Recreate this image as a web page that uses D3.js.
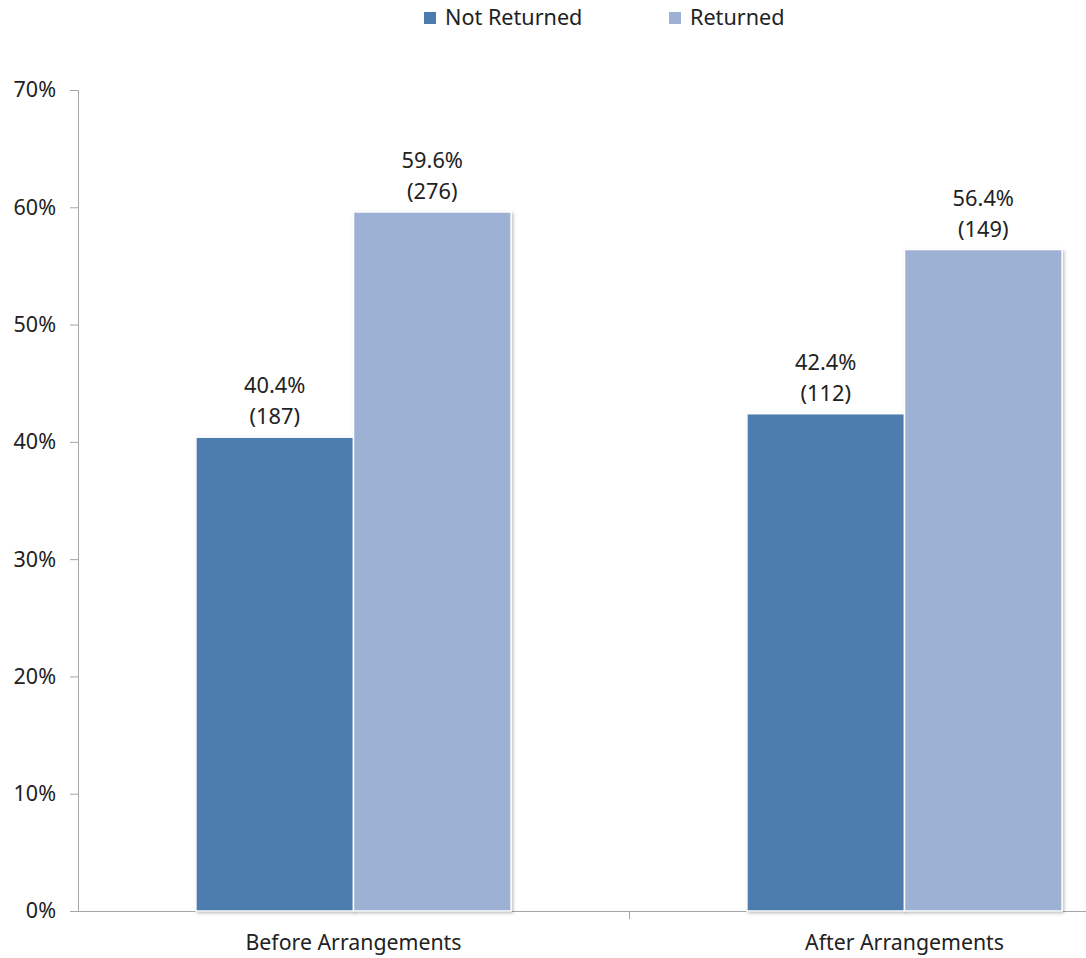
<!DOCTYPE html>
<html><head><meta charset="utf-8">
<script src="https://cdn.jsdelivr.net/npm/d3@7"></script>
<style>body{margin:0;background:#fff}svg{display:block}text{font-family:"Noto Sans",sans-serif;fill:#222}</style>
</head><body>
<svg id="c" width="1086" height="958"></svg>
<script>
const categories = ["Before Arrangements", "After Arrangements"];
const seriesNames = ["Not Returned", "Returned"];
const notReturnedPct = [40.4, 42.4];
const returnedPct = [59.6, 56.4];
const notReturnedN = [187, 112];
const returnedN = [276, 149];
const yTicks = [0, 10, 20, 30, 40, 50, 60, 70];
const colors = ["#4E7BAE", "#9DB1D5"];

const svg = d3.select("#c");
const defs = svg.append("defs");
const f = defs.append("filter").attr("id","sh").attr("x","-10%").attr("y","-10%").attr("width","130%").attr("height","130%");
f.append("feDropShadow").attr("dx",1.5).attr("dy",1.5).attr("stdDeviation",1.5).attr("flood-color","#000").attr("flood-opacity",0.25);

const x = d3.scaleBand().domain(categories).range([78, 1180]).paddingInner(0.428).paddingOuter(0.214);
const xs = d3.scaleBand().domain(seriesNames).range([0, x.bandwidth()]);
const y = d3.scaleLinear().domain([0, 70]).range([911, 90]);

// y axis
const ya = svg.append("g").attr("transform","translate(78,0)")
  .call(d3.axisLeft(y).tickValues(yTicks).tickFormat(d => d + "%").tickSize(8).tickPadding(14));
ya.select(".domain").attr("stroke","#a6a6a6").attr("d","M-8,90.5H0.5V911.5");
ya.selectAll(".tick line").attr("stroke","#a6a6a6");
ya.selectAll(".tick text").style("font-size","21.5px").attr("fill","#222");

// x axis line
svg.append("line").attr("x1",70).attr("x2",1086).attr("y1",911.5).attr("y2",911.5).attr("stroke","#a6a6a6");
// category boundary tick
const mid = (x(categories[0]) + x.bandwidth() + x(categories[1])) / 2;
svg.append("line").attr("x1",Math.round(mid)+0.5).attr("x2",Math.round(mid)+0.5).attr("y1",911).attr("y2",919).attr("stroke","#a6a6a6");

const data = [];
categories.forEach((c,i)=>{
  data.push({c, s: seriesNames[0], v: notReturnedPct[i], n: notReturnedN[i]});
  data.push({c, s: seriesNames[1], v: returnedPct[i], n: returnedN[i]});
});

svg.append("g").selectAll("rect").data(data).join("rect")
  .attr("x", d => x(d.c) + xs(d.s))
  .attr("y", d => y(d.v))
  .attr("width", xs.bandwidth())
  .attr("height", d => y(0) - y(d.v))
  .attr("fill", d => colors[seriesNames.indexOf(d.s)])
  .attr("stroke","#fff").attr("stroke-width",1.5)
  .attr("filter","url(#sh)");

const lab = svg.append("g").selectAll("g").data(data).join("g")
  .attr("transform", d => `translate(${x(d.c) + xs(d.s) + xs.bandwidth()/2},${y(d.v)})`);
lab.append("text").attr("text-anchor","middle").attr("y",-44).style("font-size","21.8px").text(d => d.v.toFixed(1) + "%");
lab.append("text").attr("text-anchor","middle").attr("y",-13).style("font-size","21.8px").text(d => "(" + d.n + ")");

// category labels
svg.append("g").selectAll("text").data(categories).join("text")
  .attr("x", d => x(d) + x.bandwidth()/2).attr("y", 950)
  .attr("text-anchor","middle").style("font-size","21.3px").text(d => d);

// legend
const legX = [424, 669];
const lg = svg.append("g").selectAll("g").data(seriesNames).join("g")
  .attr("transform", (d,i) => `translate(${legX[i]},0)`);
lg.append("rect").attr("x",0).attr("y",12).attr("width",12).attr("height",12).attr("fill",(d,i)=>colors[i]);
lg.append("text").attr("x",21).attr("y",25).style("font-size","21.6px").text(d => d);
</script>
</body></html>
